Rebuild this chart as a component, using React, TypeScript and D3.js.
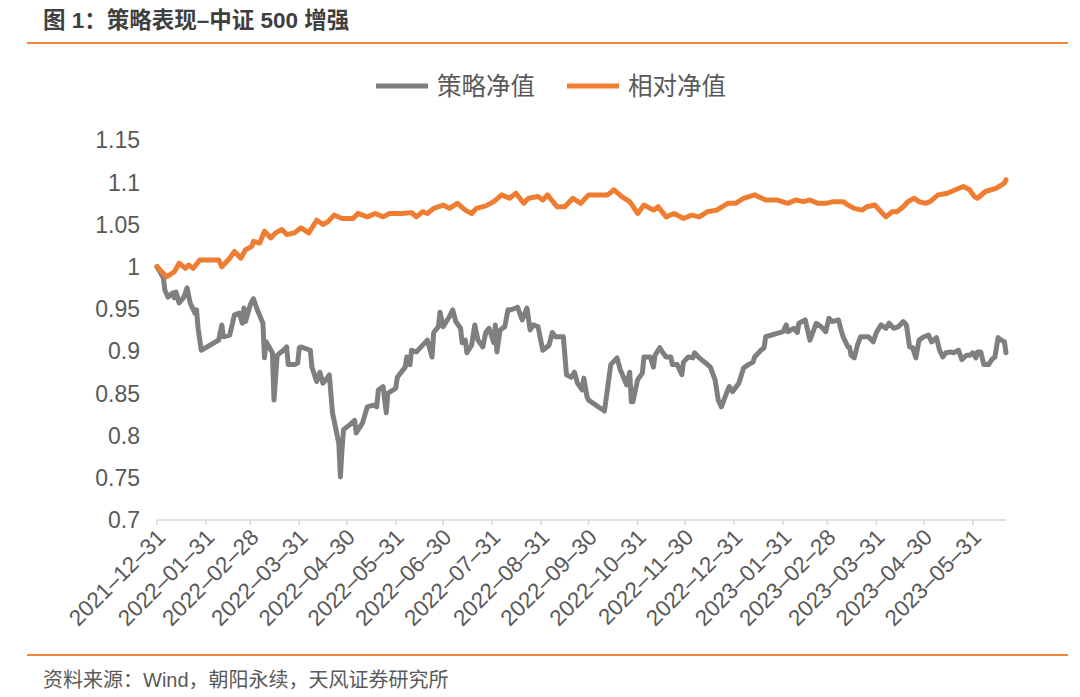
import * as d3 from 'd3';

const strategyDates = [
  '2021-12-31', '2022-01-04', '2022-01-05', '2022-01-07', '2022-01-10', '2022-01-11', '2022-01-12', '2022-01-14',
  '2022-01-17', '2022-01-19', '2022-01-21', '2022-01-24', '2022-01-25', '2022-01-26', '2022-01-28', '2022-02-08',
  '2022-02-10', '2022-02-11', '2022-02-15', '2022-02-18', '2022-02-21', '2022-02-23', '2022-02-24', '2022-02-25',
  '2022-02-28', '2022-03-02', '2022-03-04', '2022-03-08', '2022-03-09', '2022-03-10', '2022-03-14', '2022-03-15',
  '2022-03-17', '2022-03-21', '2022-03-23', '2022-03-24', '2022-03-28', '2022-03-30', '2022-03-31', '2022-04-01',
  '2022-04-07', '2022-04-08', '2022-04-11', '2022-04-13', '2022-04-15', '2022-04-18', '2022-04-19', '2022-04-21',
  '2022-04-25', '2022-04-26', '2022-04-27', '2022-04-28', '2022-05-02', '2022-05-05', '2022-05-06', '2022-05-10',
  '2022-05-13', '2022-05-17', '2022-05-19', '2022-05-20', '2022-05-23', '2022-05-25', '2022-05-26', '2022-05-31',
  '2022-06-01', '2022-06-06', '2022-06-07', '2022-06-09', '2022-06-10', '2022-06-13', '2022-06-16', '2022-06-20',
  '2022-06-23', '2022-06-24', '2022-06-27', '2022-06-28', '2022-06-30', '2022-07-04', '2022-07-06', '2022-07-08',
  '2022-07-11', '2022-07-12', '2022-07-14', '2022-07-15', '2022-07-18', '2022-07-20', '2022-07-22', '2022-07-25',
  '2022-07-27', '2022-07-29', '2022-08-01', '2022-08-02', '2022-08-03', '2022-08-05', '2022-08-08', '2022-08-10',
  '2022-08-12', '2022-08-16', '2022-08-19', '2022-08-22', '2022-08-24', '2022-08-26', '2022-08-29', '2022-09-01',
  '2022-09-05', '2022-09-07', '2022-09-09', '2022-09-14', '2022-09-16', '2022-09-19', '2022-09-21', '2022-09-23',
  '2022-09-26', '2022-09-27', '2022-09-29', '2022-09-30', '2022-10-10', '2022-10-12', '2022-10-14', '2022-10-18',
  '2022-10-20', '2022-10-21', '2022-10-24', '2022-10-26', '2022-10-27', '2022-10-28', '2022-10-31', '2022-11-03',
  '2022-11-04', '2022-11-08', '2022-11-10', '2022-11-11', '2022-11-14', '2022-11-16', '2022-11-18', '2022-11-21',
  '2022-11-22', '2022-11-25', '2022-11-28', '2022-11-29', '2022-12-02', '2022-12-05', '2022-12-06', '2022-12-09',
  '2022-12-13', '2022-12-16', '2022-12-19', '2022-12-21', '2022-12-23', '2022-12-27', '2022-12-28', '2022-12-30',
  '2023-01-03', '2023-01-04', '2023-01-06', '2023-01-09', '2023-01-12', '2023-01-13', '2023-01-17', '2023-01-19',
  '2023-01-20', '2023-01-31', '2023-02-02', '2023-02-03', '2023-02-07', '2023-02-09', '2023-02-10', '2023-02-14',
  '2023-02-17', '2023-02-21', '2023-02-24', '2023-02-27', '2023-03-01', '2023-03-03', '2023-03-07', '2023-03-09',
  '2023-03-10', '2023-03-13', '2023-03-14', '2023-03-15', '2023-03-17', '2023-03-18', '2023-03-19', '2023-03-21',
  '2023-03-26', '2023-03-29', '2023-03-31', '2023-04-03', '2023-04-06', '2023-04-08', '2023-04-11', '2023-04-14',
  '2023-04-17', '2023-04-19', '2023-04-21', '2023-04-23', '2023-04-25', '2023-04-27', '2023-04-30', '2023-05-03',
  '2023-05-05', '2023-05-08', '2023-05-10', '2023-05-12', '2023-05-14', '2023-05-17', '2023-05-19', '2023-05-22',
  '2023-05-24', '2023-05-27', '2023-05-29', '2023-05-31', '2023-06-02', '2023-06-03', '2023-06-05', '2023-06-07',
  '2023-06-10', '2023-06-12', '2023-06-14', '2023-06-16', '2023-06-18', '2023-06-20', '2023-06-21',
];

const strategyValues = [
  1.0, 0.987, 0.972, 0.964, 0.969, 0.963, 0.97, 0.957,
  0.964, 0.975, 0.957, 0.945, 0.949, 0.927, 0.901, 0.913,
  0.931, 0.917, 0.919, 0.943, 0.945, 0.933, 0.951, 0.935,
  0.955, 0.962, 0.951, 0.933, 0.892, 0.911, 0.898, 0.842,
  0.895, 0.901, 0.905, 0.884, 0.884, 0.886, 0.904, 0.905,
  0.901, 0.881, 0.864, 0.875, 0.862, 0.869, 0.872, 0.827,
  0.791, 0.751, 0.783, 0.807, 0.813, 0.818, 0.803, 0.815,
  0.834, 0.836, 0.834, 0.854, 0.858, 0.827, 0.85, 0.856,
  0.869, 0.881, 0.893, 0.884, 0.901, 0.899, 0.905, 0.913,
  0.893, 0.922, 0.929, 0.946, 0.929, 0.941, 0.949, 0.935,
  0.927, 0.91, 0.913, 0.898, 0.907, 0.931, 0.913, 0.905,
  0.922, 0.927, 0.91, 0.931, 0.899, 0.925, 0.929, 0.949,
  0.949, 0.952, 0.937, 0.951, 0.925, 0.931, 0.929, 0.901,
  0.907, 0.922, 0.917, 0.917, 0.872, 0.869, 0.875, 0.862,
  0.854, 0.868, 0.846, 0.842, 0.829, 0.856, 0.884, 0.892,
  0.878, 0.874, 0.86, 0.875, 0.84, 0.84, 0.866, 0.874,
  0.893, 0.893, 0.881, 0.895, 0.904, 0.898, 0.893, 0.893,
  0.884, 0.884, 0.872, 0.887, 0.893, 0.892, 0.898, 0.892,
  0.886, 0.881, 0.866, 0.842, 0.834, 0.854, 0.858, 0.852,
  0.862, 0.868, 0.88, 0.884, 0.887, 0.893, 0.901, 0.904,
  0.917, 0.923, 0.931, 0.923, 0.927, 0.922, 0.933, 0.937,
  0.913, 0.933, 0.929, 0.923, 0.939, 0.935, 0.937, 0.923,
  0.917, 0.905, 0.905, 0.895, 0.892, 0.899, 0.907, 0.917,
  0.917, 0.911, 0.922, 0.931, 0.927, 0.933, 0.927, 0.929,
  0.935, 0.931, 0.905, 0.904, 0.892, 0.913, 0.917, 0.919,
  0.911, 0.916, 0.901, 0.893, 0.898, 0.899, 0.898, 0.901,
  0.89, 0.895, 0.895, 0.898, 0.892, 0.899, 0.899, 0.884,
  0.884, 0.89, 0.893, 0.916, 0.913, 0.911, 0.898,
];

const relativeDates = [
  '2021-12-31', '2022-01-06', '2022-01-11', '2022-01-14', '2022-01-18', '2022-01-20', '2022-01-23', '2022-01-27',
  '2022-02-08', '2022-02-10', '2022-02-15', '2022-02-18', '2022-02-22', '2022-02-25', '2022-03-01', '2022-03-02',
  '2022-03-06', '2022-03-09', '2022-03-13', '2022-03-16', '2022-03-20', '2022-03-23', '2022-03-28', '2022-04-01',
  '2022-04-06', '2022-04-11', '2022-04-15', '2022-04-18', '2022-04-22', '2022-04-27', '2022-05-04', '2022-05-07',
  '2022-05-13', '2022-05-18', '2022-05-23', '2022-05-27', '2022-06-04', '2022-06-10', '2022-06-13', '2022-06-17',
  '2022-06-20', '2022-06-24', '2022-06-30', '2022-07-04', '2022-07-09', '2022-07-14', '2022-07-18', '2022-07-21',
  '2022-07-27', '2022-08-01', '2022-08-06', '2022-08-11', '2022-08-15', '2022-08-20', '2022-08-23', '2022-08-29',
  '2022-09-01', '2022-09-04', '2022-09-10', '2022-09-15', '2022-09-20', '2022-09-25', '2022-09-30', '2022-10-12',
  '2022-10-16', '2022-10-21', '2022-10-26', '2022-10-31', '2022-11-04', '2022-11-10', '2022-11-13', '2022-11-18',
  '2022-11-23', '2022-11-29', '2022-12-04', '2022-12-09', '2022-12-14', '2022-12-20', '2022-12-27', '2023-01-01',
  '2023-01-06', '2023-01-13', '2023-01-20', '2023-01-27', '2023-02-03', '2023-02-08', '2023-02-13', '2023-02-17',
  '2023-02-22', '2023-02-27', '2023-03-04', '2023-03-10', '2023-03-13', '2023-03-17', '2023-03-22', '2023-03-25',
  '2023-03-30', '2023-04-06', '2023-04-10', '2023-04-13', '2023-04-17', '2023-04-20', '2023-04-24', '2023-04-27',
  '2023-05-01', '2023-05-04', '2023-05-09', '2023-05-15', '2023-05-20', '2023-05-25', '2023-05-29', '2023-06-01',
  '2023-06-03', '2023-06-08', '2023-06-15', '2023-06-20', '2023-06-21',
];

const relativeValues = [
  1.0, 0.988, 0.994, 1.004, 0.998, 1.002, 0.998, 1.008,
  1.008, 1.0, 1.01, 1.018, 1.01, 1.02, 1.024, 1.03,
  1.028, 1.042, 1.034, 1.04, 1.044, 1.038, 1.04, 1.046,
  1.04, 1.055, 1.05, 1.053, 1.061, 1.057, 1.057, 1.063,
  1.059, 1.063, 1.059, 1.063, 1.063, 1.064, 1.059, 1.065,
  1.063, 1.069, 1.073, 1.069, 1.075, 1.067, 1.063, 1.069,
  1.072, 1.077, 1.085, 1.081, 1.087, 1.075, 1.081, 1.083,
  1.079, 1.085, 1.071, 1.071, 1.081, 1.075, 1.085, 1.085,
  1.091, 1.083, 1.077, 1.063, 1.073, 1.067, 1.071, 1.059,
  1.063, 1.057, 1.061, 1.059, 1.065, 1.067, 1.075, 1.075,
  1.081, 1.085, 1.079, 1.079, 1.075, 1.079, 1.077, 1.079,
  1.075, 1.075, 1.077, 1.077, 1.073, 1.069, 1.067, 1.071,
  1.073, 1.059, 1.065, 1.065, 1.071, 1.077, 1.081, 1.077,
  1.075, 1.077, 1.085, 1.087, 1.091, 1.095, 1.091, 1.083,
  1.081, 1.089, 1.093, 1.099, 1.103,
];

const monthTicks = [
  '2021-12-31', '2022-01-31', '2022-02-28', '2022-03-31', '2022-04-30', '2022-05-31', '2022-06-30',
  '2022-07-31', '2022-08-31', '2022-09-30', '2022-10-31', '2022-11-30', '2022-12-31', '2023-01-31',
  '2023-02-28', '2023-03-31', '2023-04-30', '2023-05-31',
];

const yTicks = [0.7, 0.75, 0.8, 0.85, 0.9, 0.95, 1, 1.05, 1.1, 1.15];

const seriesNames = ['策略净值', '相对净值'];
const seriesColors = ['#7f7f7f', '#ef7d31'];

const title = '图 1：策略表现–中证 500 增强';
const source = '资料来源：Wind，朝阳永续，天风证券研究所';

const W = 1080;
const H = 697;
const plotLeft = 157;
const plotRight = 1006;
const plotTop = 140;
const plotBottom = 520;
const font = '"Liberation Sans", Arial, "Noto Sans CJK SC", sans-serif';

const parse = d3.timeParse('%Y-%m-%d');

export default function App() {
  const x = d3
    .scaleTime()
    .domain([parse('2021-12-31') as Date, parse('2023-06-21') as Date])
    .range([plotLeft, plotRight]);
  const y = d3.scaleLinear().domain([0.7, 1.15]).range([plotBottom, plotTop]);

  const line = d3
    .line<[Date, number]>()
    .x((d) => x(d[0]))
    .y((d) => y(d[1]));

  const strategy: [Date, number][] = strategyDates.map((d, i) => [parse(d) as Date, strategyValues[i]]);
  const relative: [Date, number][] = relativeDates.map((d, i) => [parse(d) as Date, relativeValues[i]]);
  const series = [strategy, relative];

  const legendX = [376, 567];

  return (
    <svg
      width={W}
      height={H}
      style={{ position: 'absolute', left: 0, top: 0, background: '#fff' }}
      fontFamily={font}
    >
      <text x={43} y={28} fontSize={22.5} fontWeight="bold" fill="#3f3f3f">
        {title}
      </text>
      <line x1={27} x2={1068} y1={43} y2={43} stroke="#f0883a" strokeWidth={2} />

      {seriesNames.map((name, i) => (
        <g key={name} transform={`translate(${legendX[i]},86)`}>
          <line x1={0} x2={52} y1={0} y2={0} stroke={seriesColors[i]} strokeWidth={5} />
          <text x={61} y={0} dy="0.36em" fontSize={24.5} fill="#595959">
            {name}
          </text>
        </g>
      ))}

      {yTicks.map((t) => (
        <text key={t} x={140} y={y(t)} dy="0.36em" textAnchor="end" fontSize={23} fill="#595959">
          {String(t)}
        </text>
      ))}

      <line x1={plotLeft} x2={plotRight} y1={plotBottom} y2={plotBottom} stroke="#d9d9d9" strokeWidth={1.5} />
      {monthTicks.map((t) => {
        const px = x(parse(t) as Date);
        return (
          <g key={t}>
            <line x1={px} x2={px} y1={plotBottom} y2={plotBottom + 5} stroke="#d9d9d9" strokeWidth={1.5} />
            <text
              transform={`translate(${px + 4},${plotBottom + 13}) rotate(-45)`}
              textAnchor="end"
              dy="0.36em"
              fontSize={22.5}
              fill="#595959"
            >
              {t.replace(/-/g, '–')}
            </text>
          </g>
        );
      })}

      {series.map((s, i) => (
        <path
          key={i}
          d={line(s) ?? ''}
          fill="none"
          stroke={seriesColors[i]}
          strokeWidth={5}
          strokeLinejoin="round"
          strokeLinecap="round"
        />
      ))}

      <line x1={27} x2={1068} y1={655} y2={655} stroke="#f0883a" strokeWidth={2} />
      <text x={43} y={687} fontSize={20} fill="#595959">
        {source}
      </text>
    </svg>
  );
}
